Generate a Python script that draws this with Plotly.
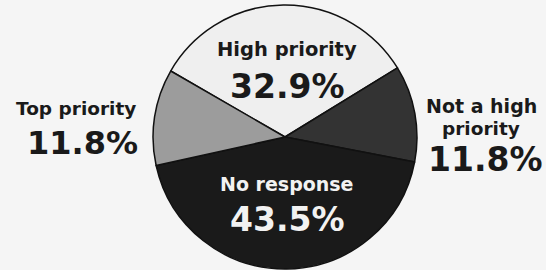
import plotly.graph_objects as go

categories = ["High priority", "Not a high priority", "No response", "Top priority"]
values = [32.9, 11.8, 43.5, 11.8]
slice_colors = ["#efefef", "#333333", "#1a1a1a", "#9c9c9c"]
value_labels = [f"{v:.1f}%" for v in values]

W, H = 546, 270
cx, cy, r = 285, 137, 132

fig = go.Figure()
fig.add_trace(go.Pie(
    labels=categories,
    values=values,
    sort=False,
    direction="clockwise",
    rotation=300,
    textinfo="none",
    hoverinfo="label+percent",
    marker=dict(colors=slice_colors, line=dict(color="#111111", width=1.5)),
    domain=dict(x=[(cx - r) / W, (cx + r) / W], y=[(H - cy - r) / H, (H - cy + r) / H]),
    showlegend=False,
))

FONT = "DejaVu Sans, Verdana, sans-serif"

def ann(text, x, y, size, color="#1a1a1a"):
    fig.add_annotation(
        text=f"<b>{text}</b>", x=x / W, y=1 - y / H, xref="paper", yref="paper",
        xanchor="center", yanchor="middle", showarrow=False,
        font=dict(family=FONT, size=size, color=color),
    )

# labels
ann(categories[0], 287, 50, 19.5)
ann(value_labels[0], 287, 87, 33)
ann("No response", 287, 184, 19, "#f2f2f2")
ann(value_labels[2], 287, 219, 33, "#f2f2f2")
ann("Top priority", 76, 108, 18.5)
ann(value_labels[3], 82, 143, 32)
ann("Not a high", 481, 106, 19)
ann("priority", 481, 128, 18.5)
ann(value_labels[1], 486, 159, 33)

fig.update_layout(
    width=W, height=H,
    margin=dict(l=0, r=0, t=0, b=0),
    paper_bgcolor="#f5f5f5",
    plot_bgcolor="#f5f5f5",
)

fig.write_html(
    "out.html",
    config={"displayModeBar": False},
    post_script="document.body.style.margin='0';document.body.style.background='#f5f5f5';",
)
